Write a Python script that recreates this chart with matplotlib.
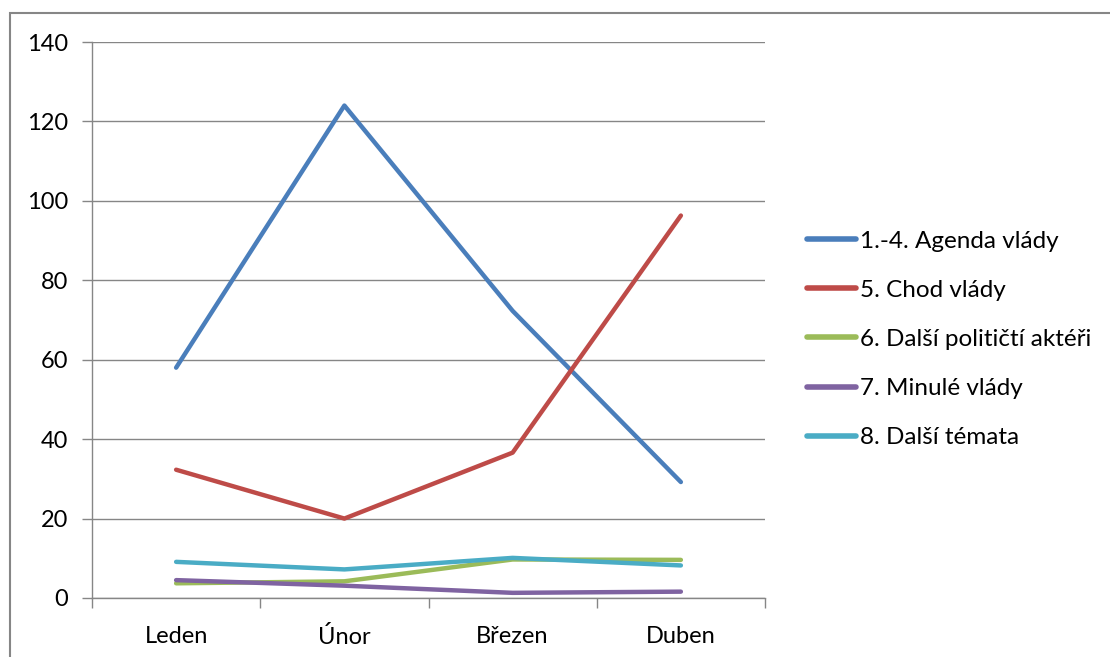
import numpy as np
import matplotlib.pyplot as plt
from matplotlib.patches import Rectangle

plt.rcParams['font.family'] = ['Lato', 'DejaVu Sans']

mesice = ["Leden", "Únor", "Březen", "Duben"]
agenda = [58, 124, 72.3, 29.2]
chod = [32.3, 20, 36.6, 96.3]
aktori = [3.7, 4.2, 9.7, 9.6]
minule = [4.5, 3.1, 1.3, 1.6]
temata = [9.1, 7.2, 10.1, 8.2]

nazvy = ["1.-4. Agenda vlády", "5. Chod vlády", "6. Další političtí aktéři",
         "7. Minulé vlády", "8. Další témata"]
barvy = ["#4A7EBB", "#BE4B48", "#9BBB59", "#7F63A1", "#4AACC5"]

fig = plt.figure(figsize=(11.1, 6.57), dpi=100)
# ramecek grafu (presahuje doprava a dolu)
fig.patches.append(Rectangle((10 / 1110, -0.1), 1.2, (657 - 13) / 657 + 0.1,
                             transform=fig.transFigure, fill=False,
                             edgecolor="#868686", linewidth=1.5))

ax = fig.add_axes([92 / 1110, 59 / 657, 673 / 1110, 556 / 657])
x = np.arange(len(mesice))
for data, nazev, barva in zip([agenda, chod, aktori, minule, temata], nazvy, barvy):
    ax.plot(x, data, color=barva, linewidth=3.2, label=nazev, solid_capstyle="round")

ax.set_xlim(-0.5, 3.5)
ax.set_ylim(0, 140)
ax.set_yticks(range(0, 141, 20))
ax.yaxis.grid(True, color="#868686", linewidth=1)
ax.set_axisbelow(True)
ax.set_xticks(x)
ax.set_xticklabels(mesice)
ax.set_xticks(np.arange(-0.5, 3.6, 1), minor=True)
ax.tick_params(axis="x", which="major", length=0, pad=20, labelsize=17)
ax.tick_params(axis="x", which="minor", length=7, color="#868686", width=1)
ax.tick_params(axis="y", length=7, color="#868686", width=1, labelsize=17, pad=10)
for s in ["top", "right"]:
    ax.spines[s].set_visible(False)
for s in ["left", "bottom"]:
    ax.spines[s].set_color("#868686")
    ax.spines[s].set_linewidth(1)

leg = ax.legend(loc="center left", bbox_to_anchor=(1.063, 0.465), frameon=False,
                fontsize=17.5, handlelength=2.0, handletextpad=0.15, labelspacing=1.16,
                borderaxespad=0, borderpad=0)
for h in leg.get_lines():
    h.set_linewidth(4)

fig.savefig("out.png", dpi=100)
